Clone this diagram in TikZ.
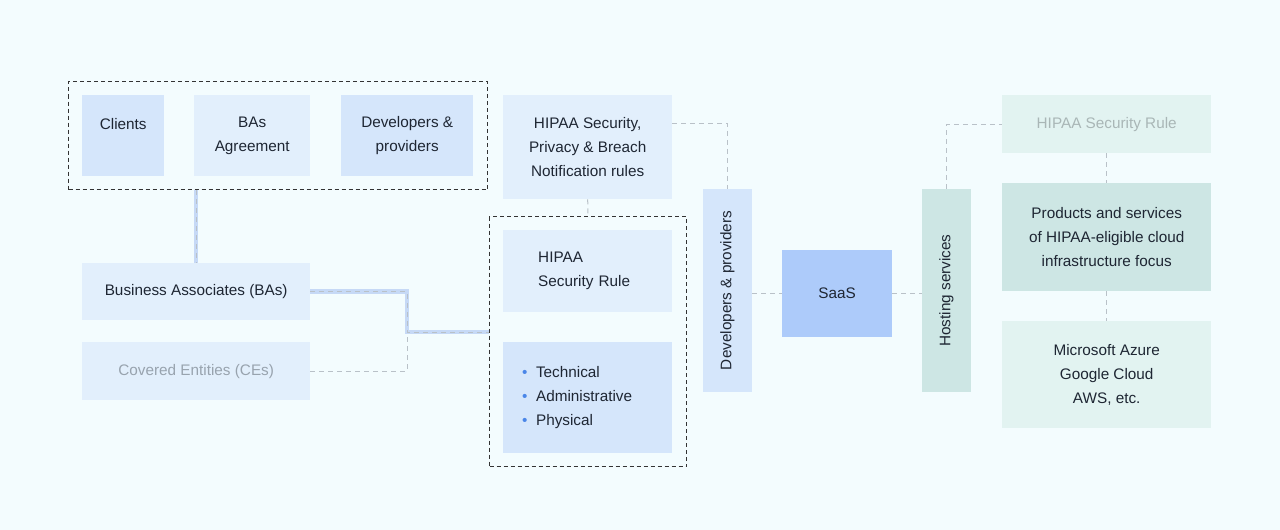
\documentclass[tikz,border=0pt]{standalone}
\usepackage{fontspec}
\setmainfont{Liberation Sans}
\usetikzlibrary{positioning}
\definecolor{bgcol}{HTML}{F3FCFE}
\definecolor{blueA}{HTML}{D5E6FB}
\definecolor{blueB}{HTML}{E2EFFC}
\definecolor{saasblue}{HTML}{ADCBFA}
\definecolor{tealA}{HTML}{CDE6E4}
\definecolor{tealB}{HTML}{E2F3F1}
\definecolor{txtdark}{HTML}{1E2633}
\definecolor{txtgray}{HTML}{98A3AE}
\definecolor{txtsoft}{HTML}{A9B6B6}
\definecolor{connline}{HTML}{B9C1C8}
\definecolor{grpline}{HTML}{333333}
\definecolor{linkblue}{HTML}{C6D9F6}
\definecolor{dotblue}{HTML}{4A86E8}
\newcommand{\bdot}{{\color{dotblue}\textbullet}\hspace{8.5pt}}
\tikzset{
  box/.style={rectangle, anchor=north west, inner sep=0pt, align=center,
    text=txtdark, font=\fontsize{15.3}{24}\selectfont},
  grp/.style={draw=grpline, dash pattern=on 4pt off 3pt, line width=1pt,
    anchor=north west, inner sep=0pt},
  conn/.style={draw=connline, dash pattern=on 5pt off 4pt, line width=1pt},
  mainlink/.style={conn, preaction={draw=linkblue, line width=4.5pt, solid}},
}
\begin{document}
\begin{tikzpicture}[x=1pt, y=-1pt]
  % Canvas, 1280 x 530 px
  \fill[bgcol] (0,0) rectangle (1280,530);
  \useasboundingbox (0,0) rectangle (1280,530);
  % Top-left group
  \node[grp, minimum width=419pt, minimum height=108pt] (grpA) at (68,81) {};
  \node[box, fill=blueA, minimum width=82pt, minimum height=81pt] (clients) at (82,95) {Clients\\\mbox{}};
  \node[box, fill=blueB, minimum width=116pt, minimum height=81pt] (baagr) at (194,95) {BAs\\Agreement};
  \node[box, fill=blueA, minimum width=132pt, minimum height=81pt] (devprov) at (341,95) {Developers \&\\providers};
  % Left column
  \node[box, fill=blueB, minimum width=228pt, minimum height=57pt] (bas) at (82,263) {Business Associates (BAs)};
  \node[box, fill=blueB, text=txtgray, minimum width=228pt, minimum height=58pt] (ces) at (82,342) {Covered Entities (CEs)};
  % Rules column
  \node[box, fill=blueB, minimum width=169pt, minimum height=104pt] (rules) at (503,95) {HIPAA Security,\\Privacy \& Breach\\Notification rules};
  \node[grp, minimum width=197pt, minimum height=250pt] (grpB) at (489,216) {};
  \node[box, fill=blueB, align=left, text width=99pt, inner xsep=35pt, minimum height=82pt] (secrule) at (503,230) {HIPAA\\Security Rule};
  \node[box, fill=blueA, align=left, text width=131pt, inner xsep=19pt, minimum height=111pt] (safeg) at (503,342) {\bdot Technical\\\bdot Administrative\\\bdot Physical};
  % Middle: vertical bars and SaaS (rotated: east = top, south = right, north = left)
  \node[box, anchor=center, rotate=90, fill=blueA, minimum width=203pt, minimum height=49pt] (devv) at (727.5,290.5) {Developers \& providers};
  \node[box, fill=saasblue, minimum width=110pt, minimum height=87pt] (saas) at (782,250) {SaaS};
  \node[box, anchor=center, rotate=90, fill=tealA, minimum width=203pt, minimum height=49pt] (host) at (946.5,290.5) {Hosting services};
  % Right column
  \node[box, fill=tealB, text=txtsoft, minimum width=209pt, minimum height=58pt] (hsr) at (1002,95) {HIPAA Security Rule};
  \node[box, fill=tealA, minimum width=209pt, minimum height=108pt] (prod) at (1002,183) {Products and services\\of HIPAA-eligible cloud\\infrastructure focus};
  \node[box, fill=tealB, minimum width=209pt, minimum height=107pt] (cloud) at (1002,321) {Microsoft Azure\\Google Cloud\\AWS, etc.};
  % Connectors
  \coordinate (jn) at (407,332);
  \draw[mainlink] (grpA.south -| bas.north) -- (bas.north);
  \draw[conn] (ces.east) -| (jn);
  \draw[mainlink] (bas.east) -| (jn) -- (jn -| grpB.west);
  \draw[conn] ([yshift=-28pt]rules.north east) -| (devv.east);
  \draw[conn] (rules.south) -- (grpB.north);
  \draw[conn] (devv.south |- saas.west) -- (saas.west);
  \draw[conn] (saas.east) -- (saas.east -| host.north);
  \draw[conn] (host.east) |- (hsr.west);
  \draw[conn] (hsr.south) -- (prod.north);
  \draw[conn] (prod.south) -- (cloud.north);
\end{tikzpicture}
\end{document}
